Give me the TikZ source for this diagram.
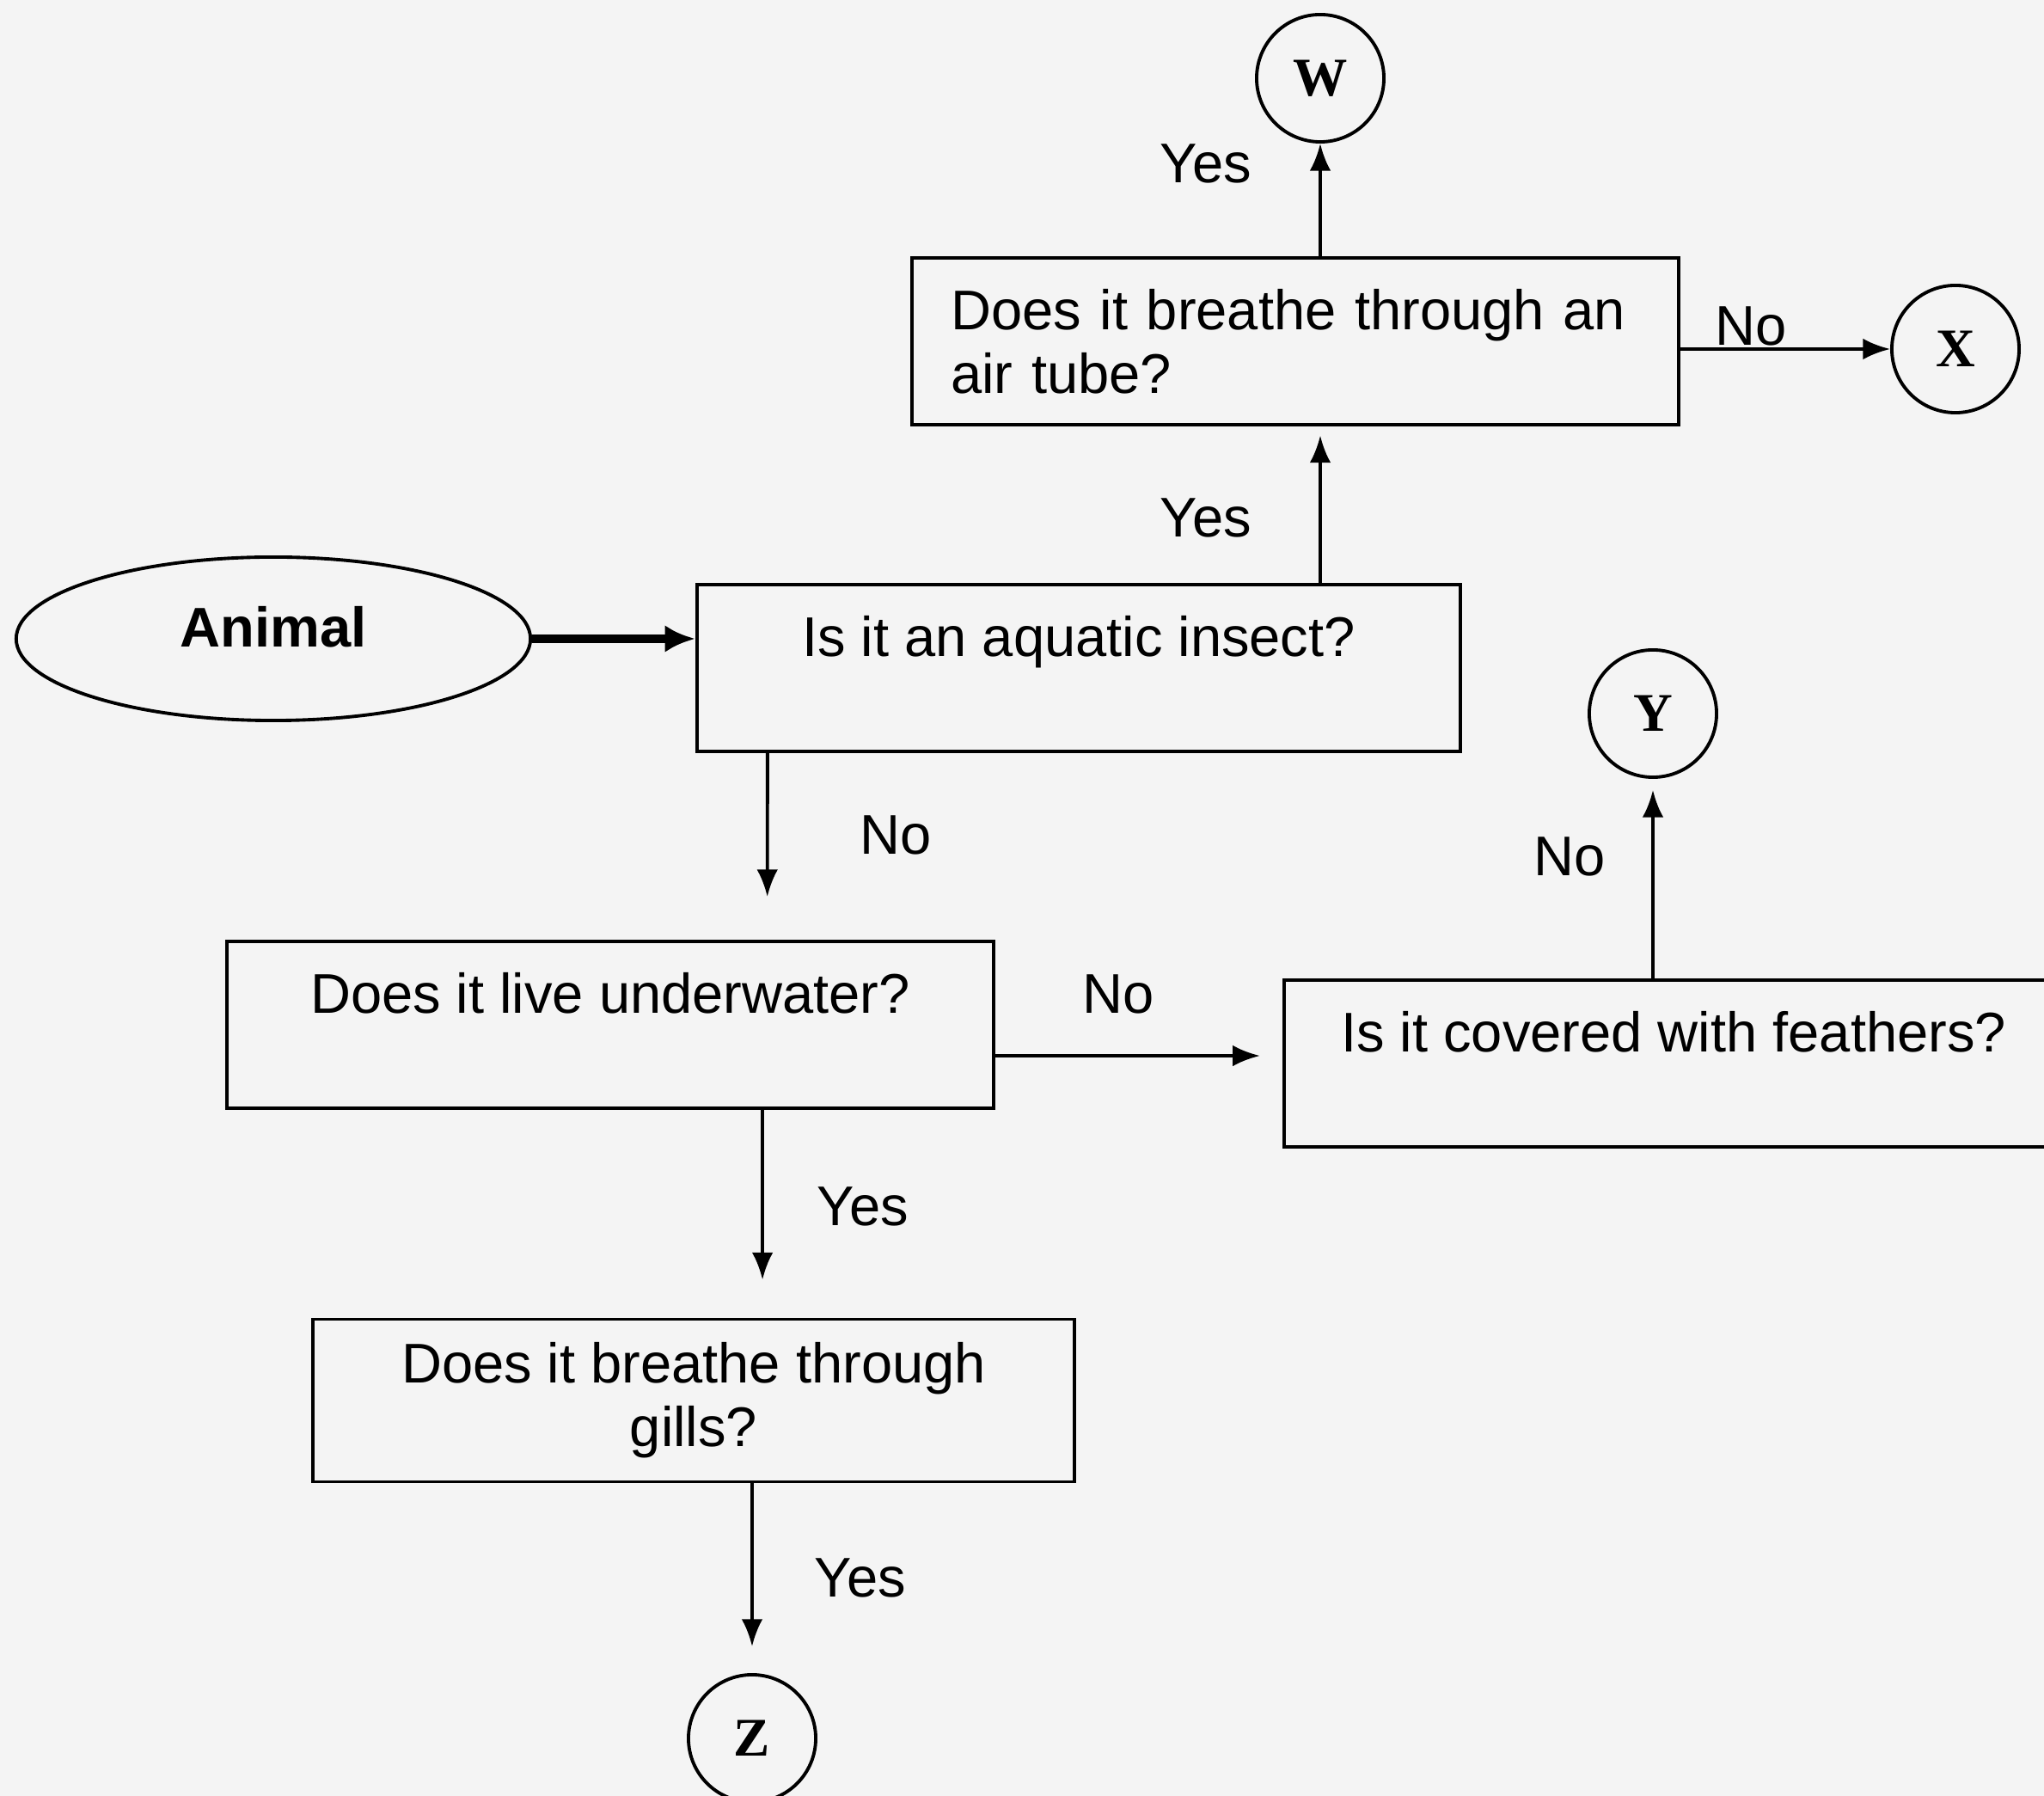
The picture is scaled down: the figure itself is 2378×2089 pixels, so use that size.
\documentclass[tikz,border=0pt]{standalone}
\usepackage{fontspec}
\setmainfont{Liberation Sans}
\newfontfamily\serifletters{Liberation Serif}
\usetikzlibrary{arrows.meta,shapes.geometric}
\definecolor{paper}{HTML}{F4F4F4}
\begin{document}
\begin{tikzpicture}[x=0.01cm,y=-0.01cm,
  qbox/.style={draw, line width=1.1pt, minimum height=1.94cm, inner sep=0pt, align=center, font=\fontsize{18.5}{21}\selectfont},
  endc/.style={draw, circle, line width=1.1pt, minimum size=1.48cm, inner sep=0pt, font=\serifletters\bfseries\fontsize{18}{20}\selectfont},
  lbl/.style={font=\fontsize{18.5}{21}\selectfont, inner sep=0pt},
  arr/.style={line width=1.1pt, -{Latex[length=9pt,width=7pt]}},
  bigarr/.style={line width=2.6pt, -{Latex[length=10pt,width=9pt]}},
]
\fill[paper] (0,0) rectangle (2378,2089);
\useasboundingbox (0,0) rectangle (2378,2089);
\begin{scope}
\clip (0,0) rectangle (2378,2089);
% end circles
\node[endc] (W) at (1536,91) {W};
\node[endc] (X) at (2275,406) {X};
\node[endc] (Y) at (1923,830) {Y};
\node[endc] (Z) at (875,2022) {Z};
% start
\node[draw, ellipse, line width=1.1pt, minimum width=5.98cm, minimum height=1.9cm, inner sep=0pt, font=\bfseries\fontsize{18.5}{21}\selectfont] (animal) at (318,743) {\raisebox{8pt}{Animal}};
% question boxes
\node[qbox, text width=8.01cm, align=left, inner xsep=0.45cm] (air) at (1507,397) {Does it breathe through an\\air tube?};
\node[qbox, minimum width=8.88cm] (aq) at (1255,777) {Is it an aquatic insect?\\[-6pt]\strut};
\node[qbox, minimum width=8.91cm] (uw) at (710,1192) {Does it live underwater?\\[-6pt]\strut};
\node[qbox, minimum width=9.06cm] (fe) at (1947,1237) {Is it covered with feathers?\\[-6pt]\strut};
\node[qbox, minimum width=8.86cm, minimum height=1.89cm] (gi) at (807,1629) {Does it breathe through\\gills?};
% connectors
\draw[bigarr] (animal.east) -- (aq.west |- animal.east);
\draw[arr, shorten >=3pt] (aq.north -| W.south) -- (air.south -| W.south);
\draw[arr] (air.north -| W.south) -- (W.south);
\draw[arr] (air.east |- X.west) -- (X.west);
\draw[arr, shorten >=0.5cm] ([xshift=0.84cm]aq.south west) -- ([xshift=6.3cm]uw.north west);
\draw[arr, shorten >=0.26cm] ([yshift=-0.36cm]uw.east) -- ([yshift=-0.36cm]uw.east -| fe.west);
\draw[arr, shorten >=0.13cm] (fe.north -| Y.south) -- (Y.south);
\draw[arr, shorten >=0.44cm] ([xshift=1.77cm]uw.south) -- ([xshift=1.77cm]uw.south |- gi.north);
\draw[arr, shorten >=0.31cm] (gi.south -| Z.north) -- (Z.north);
% labels
\node[lbl] (l1) at (1403,190) {Yes};
\node[lbl] (l2) at (2037,379) {No};
\node[lbl] (l3) at (1403,602) {Yes};
\node[lbl] (l4) at (1042,971) {No};
\node[lbl] (l5) at (1301,1156) {No};
\node[lbl] (l6) at (1826,996) {No};
\node[lbl] (l7) at (1004,1403) {Yes};
\node[lbl] (l8) at (1001,1835) {Yes};
\end{scope}
\end{tikzpicture}
\end{document}
